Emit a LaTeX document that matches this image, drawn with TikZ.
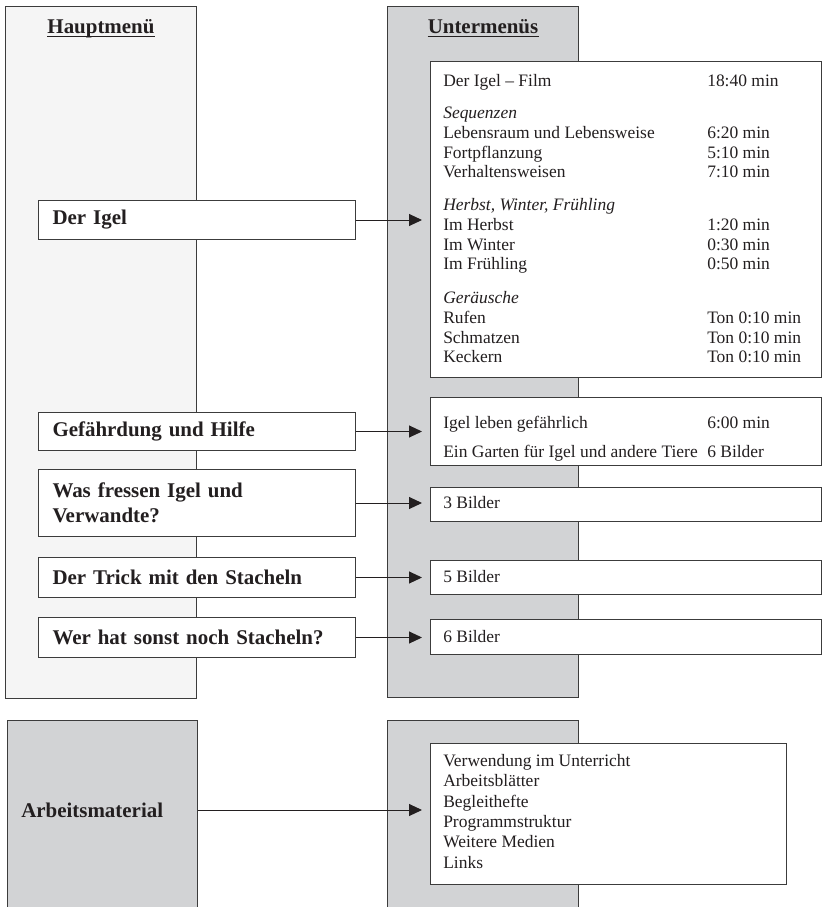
\documentclass[tikz,border=0pt]{standalone}
\usepackage{fontspec}
\setmainfont{Liberation Serif}
\usetikzlibrary{arrows.meta}
\newdimen\pxu \pxu=0.75pt
\definecolor{lightpanel}{HTML}{F5F5F5}
\definecolor{darkpanel}{HTML}{D2D3D5}
\definecolor{edge}{HTML}{3C3C3C}
\definecolor{ink}{HTML}{231F20}
\tikzset{
  panel/.style={draw=edge, line width=0.75pt, anchor=north west, inner sep=0pt},
  subbox/.style={draw=edge, fill=white, line width=0.75pt, anchor=north west, inner sep=0pt},
  menubox/.style={draw=edge, fill=white, line width=0.75pt, anchor=north west,
    minimum width=317\pxu, text width=289\pxu, inner xsep=14\pxu, inner ysep=0pt,
    align=left, text=ink, font=\fontsize{15.7}{18.8}\selectfont\bfseries},
  boldtext/.style={inner sep=0pt, text=ink, font=\fontsize{15.7}{18.8}\selectfont\bfseries},
  item/.style={anchor=base west, inner sep=0pt, text=ink, font=\fontsize{13.1}{15}\selectfont},
  uline/.style={draw=ink, line width=1.3pt},
  arr/.style={-{Triangle[length=9.75pt,width=9pt]}, line width=0.75pt, draw=ink, shorten >=6pt}
}
\begin{document}
\begin{tikzpicture}[x=0.75pt, y=-0.75pt]
\useasboundingbox (0,0) rectangle (826,907);
\clip (0,0) rectangle (826,907);
% columns
\node[panel, fill=lightpanel, minimum width=191\pxu, minimum height=692\pxu] (hpanel) at (5,6) {};
\node[panel, fill=darkpanel, minimum width=191\pxu, minimum height=691\pxu] (upanel) at (387,6) {};
\node[panel, fill=darkpanel, minimum width=190\pxu, minimum height=210\pxu] (apanel) at (7,720) {};
\node[panel, fill=darkpanel, minimum width=191\pxu, minimum height=210\pxu] (bpanel) at (387,720) {};
\node[boldtext, anchor=base] (htitle) at (hpanel.north |- 0,33) {Hauptmenü};
\node[boldtext, anchor=base] (utitle) at (upanel.north |- 0,33) {Untermenüs};
\draw[uline] ([yshift=-2.6pt]htitle.base west) -- ([yshift=-2.6pt]htitle.base east);
\draw[uline] ([yshift=-2.6pt]utitle.base west) -- ([yshift=-2.6pt]utitle.base east);
% main menu
\node[menubox, minimum height=39\pxu] (igel) at (38,200) {Der Igel};
\node[menubox, minimum height=38\pxu] (gef) at (38,412) {Gefährdung und Hilfe};
\node[menubox, minimum height=67\pxu] (fress) at (38,469) {Was fressen Igel und\\Verwandte?};
\node[menubox, minimum height=40\pxu] (trick) at (38,557) {Der Trick mit den Stacheln};
\node[menubox, minimum height=40\pxu] (wer) at (38,617) {Wer hat sonst noch Stacheln?};
\node[boldtext, anchor=west] (amat) at (21,810) {Arbeitsmaterial};
% sub menus
\node[subbox, minimum width=391\pxu, minimum height=316\pxu] (filmbox) at (430,61) {};
\node[subbox, minimum width=391\pxu, minimum height=68\pxu] (gefbox) at (430,397) {};
\node[subbox, minimum width=391\pxu, minimum height=34\pxu] (fressbox) at (430,487) {};
\node[subbox, minimum width=391\pxu, minimum height=34\pxu] (trickbox) at (430,560) {};
\node[subbox, minimum width=391\pxu, minimum height=35\pxu] (werbox) at (430,619) {};
\node[subbox, minimum width=356\pxu, minimum height=141\pxu] (amatbox) at (430,743) {};
\foreach \t/\y [count=\i] in {{Der Igel – Film}/86, {\textit{Sequenzen}}/118.5,
    {Lebensraum und Lebensweise}/138.3, Fortpflanzung/158, Verhaltensweisen/177.8,
    {\textit{Herbst, Winter, Frühling}}/210.5, Im Herbst/230.3, Im Winter/250, Im Frühling/269.8,
    {\textit{Geräusche}}/303.5, Rufen/323.3, Schmatzen/343, Keckern/362.8}
  \node[item] (film\i) at (443,\y) {\t};
\foreach \t/\y [count=\i] in {18:40 min/86, 6:20 min/138.3, 5:10 min/158, 7:10 min/177.8,
    1:20 min/230.3, 0:30 min/250, 0:50 min/269.8,
    Ton 0:10 min/323.3, Ton 0:10 min/343, Ton 0:10 min/362.8}
  \node[item] (time\i) at (707,\y) {\t};
\node[item] (gef1) at (443,428) {Igel leben gefährlich};
\node[item] (gef2) at (443,457.5) {Ein Garten für Igel und andere Tiere};
\node[item] (geft1) at (707,428) {6:00 min};
\node[item] (geft2) at (707,457.5) {6 Bilder};
\node[item] (fresst) at (443,508.5) {3 Bilder};
\node[item] (trickt) at (443,582.5) {5 Bilder};
\node[item] (wert) at (443,642.5) {6 Bilder};
\foreach \t [count=\i] in {Verwendung im Unterricht, Arbeitsblätter, Begleithefte,
    Programmstruktur, Weitere Medien, Links}
  \node[item] (amat\i) at (443,746.2+20.3*\i) {\t};
% connectors
\draw[arr] (igel.east) -- (igel.east -| filmbox.west);
\draw[arr] (gef.east) -- (gef.east -| gefbox.west);
\draw[arr] (fress.east) -- (fress.east -| fressbox.west);
\draw[arr] (trick.east) -- (trick.east -| trickbox.west);
\draw[arr] (wer.east) -- (wer.east -| werbox.west);
\draw[arr] (amat -| apanel.east) -- (amat -| amatbox.west);
\end{tikzpicture}
\end{document}
